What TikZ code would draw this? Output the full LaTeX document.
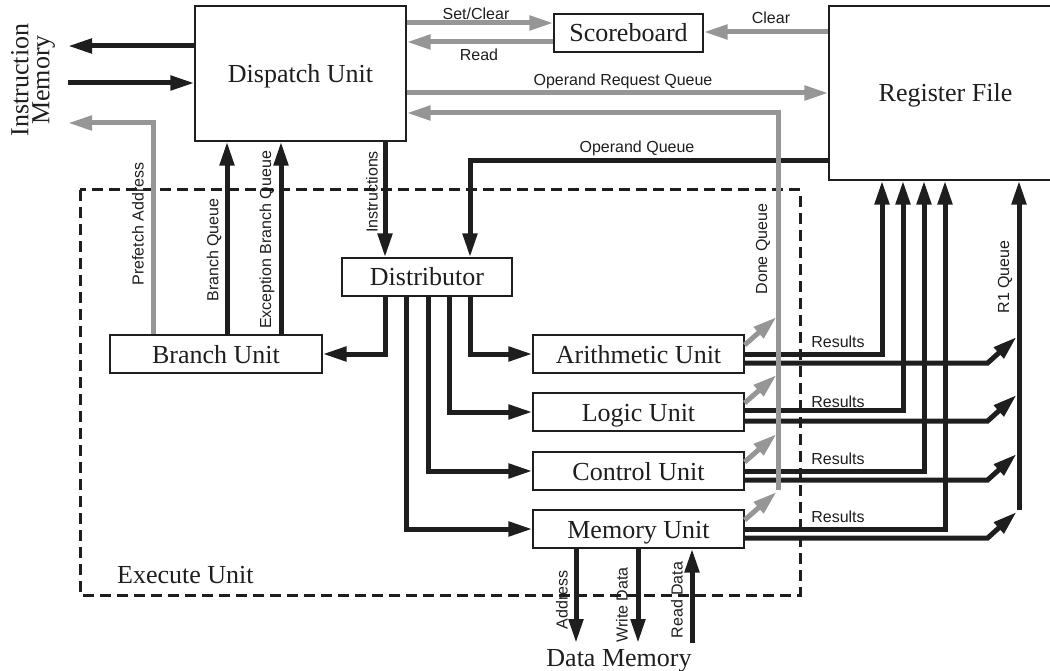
\documentclass[tikz,border=0pt]{standalone}
\usepackage{fontspec}
\setmainfont{Liberation Serif}
\setsansfont{Liberation Sans}
\usetikzlibrary{arrows.meta,calc}
\definecolor{ink}{RGB}{30,30,30}
\definecolor{pale}{RGB}{150,150,150}
\begin{document}
\begin{tikzpicture}[x=1pt,y=-1pt,
  unit/.style={draw=ink, line width=1.2pt, fill=white, inner sep=0pt,
    minimum height=38pt, text height=18pt, text depth=0pt,
    font=\fontsize{26}{26}\selectfont, text=ink},
  big/.style={font=\fontsize{26}{26}\selectfont, text=ink, inner sep=0pt},
  lbl/.style={font=\sffamily\fontsize{16}{16}\selectfont, text=ink, inner sep=0pt},
  bus/.style={line width=5pt, draw=ink},
  gbus/.style={line width=5pt, draw=pale},
  head/.style={-{Triangle[length=24pt,width=14pt]}},
  frame/.style={draw=ink, line width=3pt, dash pattern=on 11pt off 6pt},
]
\useasboundingbox (0,0) rectangle (1050,671);

% execute unit boundary
\draw[frame] (80,190) rectangle (800,595);
\node[big, anchor=west] (exu) at (117,575) {Execute Unit};

% blocks
\node[unit, minimum width=211pt, minimum height=135pt] (disp) at (300.5,73.5) {Dispatch Unit};
\node[unit, minimum width=149pt] (score) at (628.5,33) {Scoreboard};
\node[unit, minimum width=233pt, minimum height=174pt] (reg) at (945.5,93) {Register File};
\node[unit, minimum width=170pt] (dist) at (427,277) {Distributor};
\node[unit, minimum width=212pt] (branch) at (216,354) {Branch Unit};
\node[unit, minimum width=211pt] (arith) at (638.5,354) {Arithmetic Unit};
\node[unit, minimum width=211pt] (logic) at (638.5,412) {Logic Unit};
\node[unit, minimum width=211pt] (ctrl) at (638.5,471) {Control Unit};
\node[unit, minimum width=211pt] (mem) at (638.5,529) {Memory Unit};
\node[big, rotate=90, align=center, font=\fontsize{26}{21}\selectfont] (imem) at (33,80) {Instruction\\Memory};
\node[big, anchor=base] (dmem) at (619,666) {Data Memory};

% free ends
\coordinate (imA) at (68,46);
\coordinate (imB) at (68,83);
\coordinate (imC) at (68,123);
\coordinate (dA) at (576,643);
\coordinate (dW) at (638,643);
\coordinate (dR) at (692,643);
\coordinate (r1) at (1019,510);
\coordinate (dq) at (778,490);

% instruction memory side
\draw[bus,head] (disp.west |- imA) -- (imA);
\draw[bus,head] (imB) -- (disp.west |- imB);
\draw[gbus,head] (branch.north -| 153,0) |- (imC);
\draw[bus,head] (branch.north -| 227,0) -- (disp.south -| 227,0);
\draw[bus,head] (branch.north -| 281,0) -- (disp.south -| 281,0);
\node[lbl, rotate=90] at (138,224) {Prefetch Address};
\node[lbl, rotate=90] at (214,250) {Branch Queue};
\node[lbl, rotate=90] at (267,240) {Exception Branch Queue};

% scoreboard and register file requests
\draw[gbus,head] (disp.east |- 0,23) -- (score.west |- 0,23);
\draw[gbus,head] (score.west |- 0,42) -- (disp.east |- 0,42);
\draw[gbus,head] (reg.west |- 0,32) -- (score.east |- 0,32);
\draw[gbus,head] (disp.east |- 0,93) -- (reg.west |- 0,93);
\node[lbl] at (476,14) {Set/Clear};
\node[lbl] at (479,55) {Read};
\node[lbl] at (771,18) {Clear};
\node[lbl] at (623,81) {Operand Request Queue};

% operands and instructions into the distributor
\draw[bus,head] (reg.west |- 0,161) -| (dist.north -| 470,0);
\node[lbl] at (637,148) {Operand Queue};
\draw[bus,head] (disp.south -| 385,0) -- (dist.north -| 385,0);
\node[lbl, rotate=90] at (372,192) {Instructions};

% distributor fan-out
\draw[bus,head] (dist.south -| 385,0) |- (branch.east);
\draw[bus,head] (dist.south -| 470,0) |- (arith.west);
\draw[bus,head] (dist.south -| 449,0) |- (logic.west);
\draw[bus,head] (dist.south -| 428,0) |- (ctrl.west);
\draw[bus,head] (dist.south -| 406,0) |- (mem.west);

% data memory
\draw[bus,head] (mem.south -| dA) -- (dA);
\draw[bus,head] (mem.south -| dW) -- (dW);
\draw[bus,head] (dR) -- (mem.south -| dR);
\node[lbl, rotate=90] at (562,600) {Address};
\node[lbl, rotate=90] at (622,605) {Write Data};
\node[lbl, rotate=90] at (677,600) {Read Data};

% results to the register file
\draw[bus,head] (arith.east) -| (reg.south -| 882,0);
\draw[bus,head] ([yshift=2pt]logic.east) -| (reg.south -| 903,0);
\draw[bus,head] (ctrl.east) -| (reg.south -| 924,0);
\draw[bus,head] (mem.east) -| (reg.south -| 945,0);
\node[lbl] at (838,342) {Results};
\node[lbl] at (838,402) {Results};
\node[lbl] at (838,459) {Results};
\node[lbl] at (838,517) {Results};

% R1 queue
\draw[bus,head] (r1) -- (reg.south -| r1);
\foreach \u in {arith,logic,ctrl,mem}
  \draw[bus,head] ([yshift=-9pt]\u.east) -- ++(243,0) -- ++(29,-26);
\node[lbl, rotate=90] at (1005,277) {R1 Queue};

% done queue
\foreach \u in {arith,logic,ctrl,mem}
  \draw[gbus,head] ([yshift=9pt]\u.east) -- ++(32,-28);
\draw[gbus,head] (dq) |- (disp.east |- 0,113);
\node[lbl, rotate=90] at (763,249) {Done Queue};
\end{tikzpicture}
\end{document}
